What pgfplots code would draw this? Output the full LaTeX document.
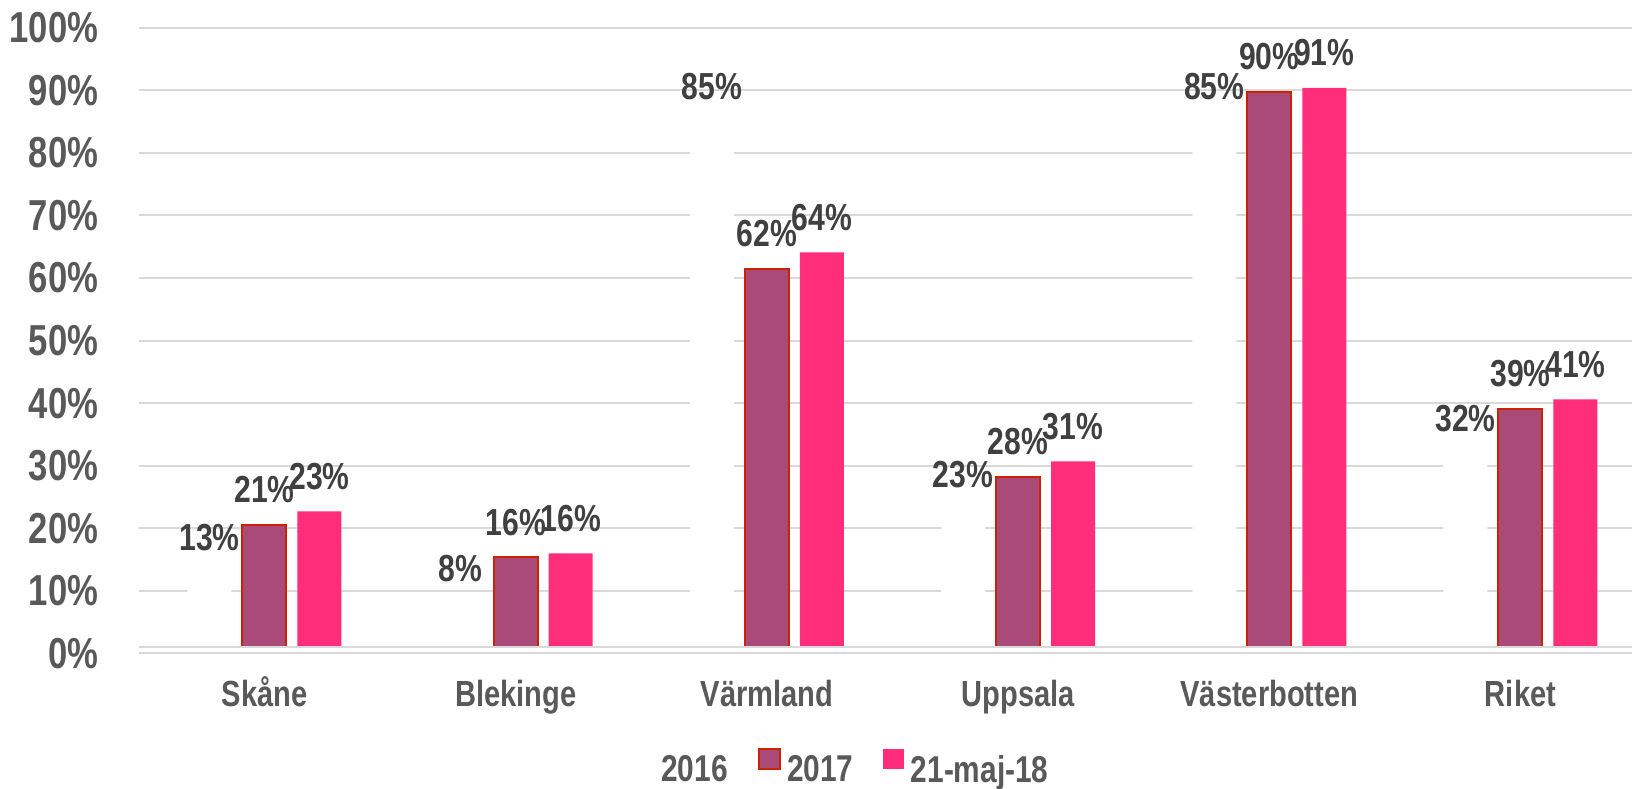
\documentclass[border=0pt]{standalone}
\usepackage{fontspec}
\setmainfont{Liberation Sans}[FakeStretch=0.8]
\usepackage{pgfplots}
\usepackage{pgfplotstable}
\pgfplotsset{compat=1.18}
\definecolor{gridc}{HTML}{D9D9D9}
\definecolor{purp}{HTML}{A94A78}
\definecolor{purpedge}{HTML}{CC2200}
\definecolor{pinkc}{HTML}{FF2D7A}
\definecolor{labc}{HTML}{404040}
\definecolor{tickc}{HTML}{595959}

\pgfplotstableread{
x  a   la  b     lb  c     lc
0  13  13  20.6  21  22.7  23
1  8   8   15.4  16  16.0  16
2  85  85  61.5  62  64.1  64
3  23  23  28.2  28  30.7  31
4  85  85  89.8  90  90.4  91
5  32  32  39.1  39  40.6  41
}\data

\begin{document}
\begin{tikzpicture}
\useasboundingbox (-41.67pt,-40.38pt) rectangle (447.93pt,196.02pt);
\begin{axis}[
  at={(0,0)}, anchor=south west,
  scale only axis, width=452.16pt, height=187.7pt,
  xmin=-0.5, xmax=5.5, ymin=0, ymax=100,
  ybar=3.3pt, bar width=13.2pt,
  axis line style={draw=none},
  major tick length=0pt,
  ymajorgrids, grid style={gridc, line width=0.6pt},
  ytick={0,10,...,100},
  yticklabel={\pgfmathprintnumber[assume math mode=true]{\tick}\%},
  yticklabel style={anchor=east, inner sep=0pt, xshift=-12pt, font=\fontsize{13}{15}\selectfont\bfseries, text=tickc},
  xtick={0,1,2,3,4,5},
  xticklabels={Skåne,Blekinge,Värmland,Uppsala,Västerbotten,Riket},
  xticklabel style={anchor=base, inner sep=0pt, yshift=-16pt, font=\fontsize{10.9}{13}\selectfont\bfseries, text=tickc},
  point meta=explicit symbolic,
  nodes near coords={\pgfplotspointmeta\%},
  every node near coord/.append style={anchor=base, inner sep=0pt, yshift=6.6pt, font=\fontsize{11.3}{13}\selectfont\bfseries, text=labc},
  legend columns=3,
  legend style={at={(axis description cs:0.466,-0.183)}, anchor=center, draw=none, fill=none,
    font=\fontsize{11.2}{13}\selectfont\bfseries, text=tickc,
    nodes={inner sep=0pt},
    /tikz/every odd column/.append style={column sep=1.9pt},
    /tikz/every even column/.append style={column sep=9pt}},
]
\addplot[fill=white, draw=none,
  legend image code/.code={\fill[white] (0pt,0.6pt) rectangle (6.3pt,6.6pt);}]
  table[x=x, y=a, meta=la] {\data};
\addplot[fill=purp, draw=purpedge, line width=0.6pt,
  legend image code/.code={\draw[fill=purp, draw=purpedge, line width=0.6pt] (0pt,0.6pt) rectangle (6.3pt,6.6pt);}]
  table[x=x, y=b, meta=lb] {\data};
\addplot[fill=pinkc, draw=none,
  legend image code/.code={\fill[pinkc] (0pt,0.6pt) rectangle (6.3pt,6.6pt);}]
  table[x=x, y=c, meta=lc] {\data};
\legend{2016,2017,21-maj-18}
\fill[white] (axis cs:-0.5,-0.5) rectangle (axis cs:5.5,1.07);
\draw[gridc, line width=0.6pt] (axis cs:-0.5,0) -- (axis cs:5.5,0);
\draw[gridc, line width=0.6pt] (axis cs:-0.5,1.07) -- (axis cs:5.5,1.07);
\end{axis}
\end{tikzpicture}
\end{document}
